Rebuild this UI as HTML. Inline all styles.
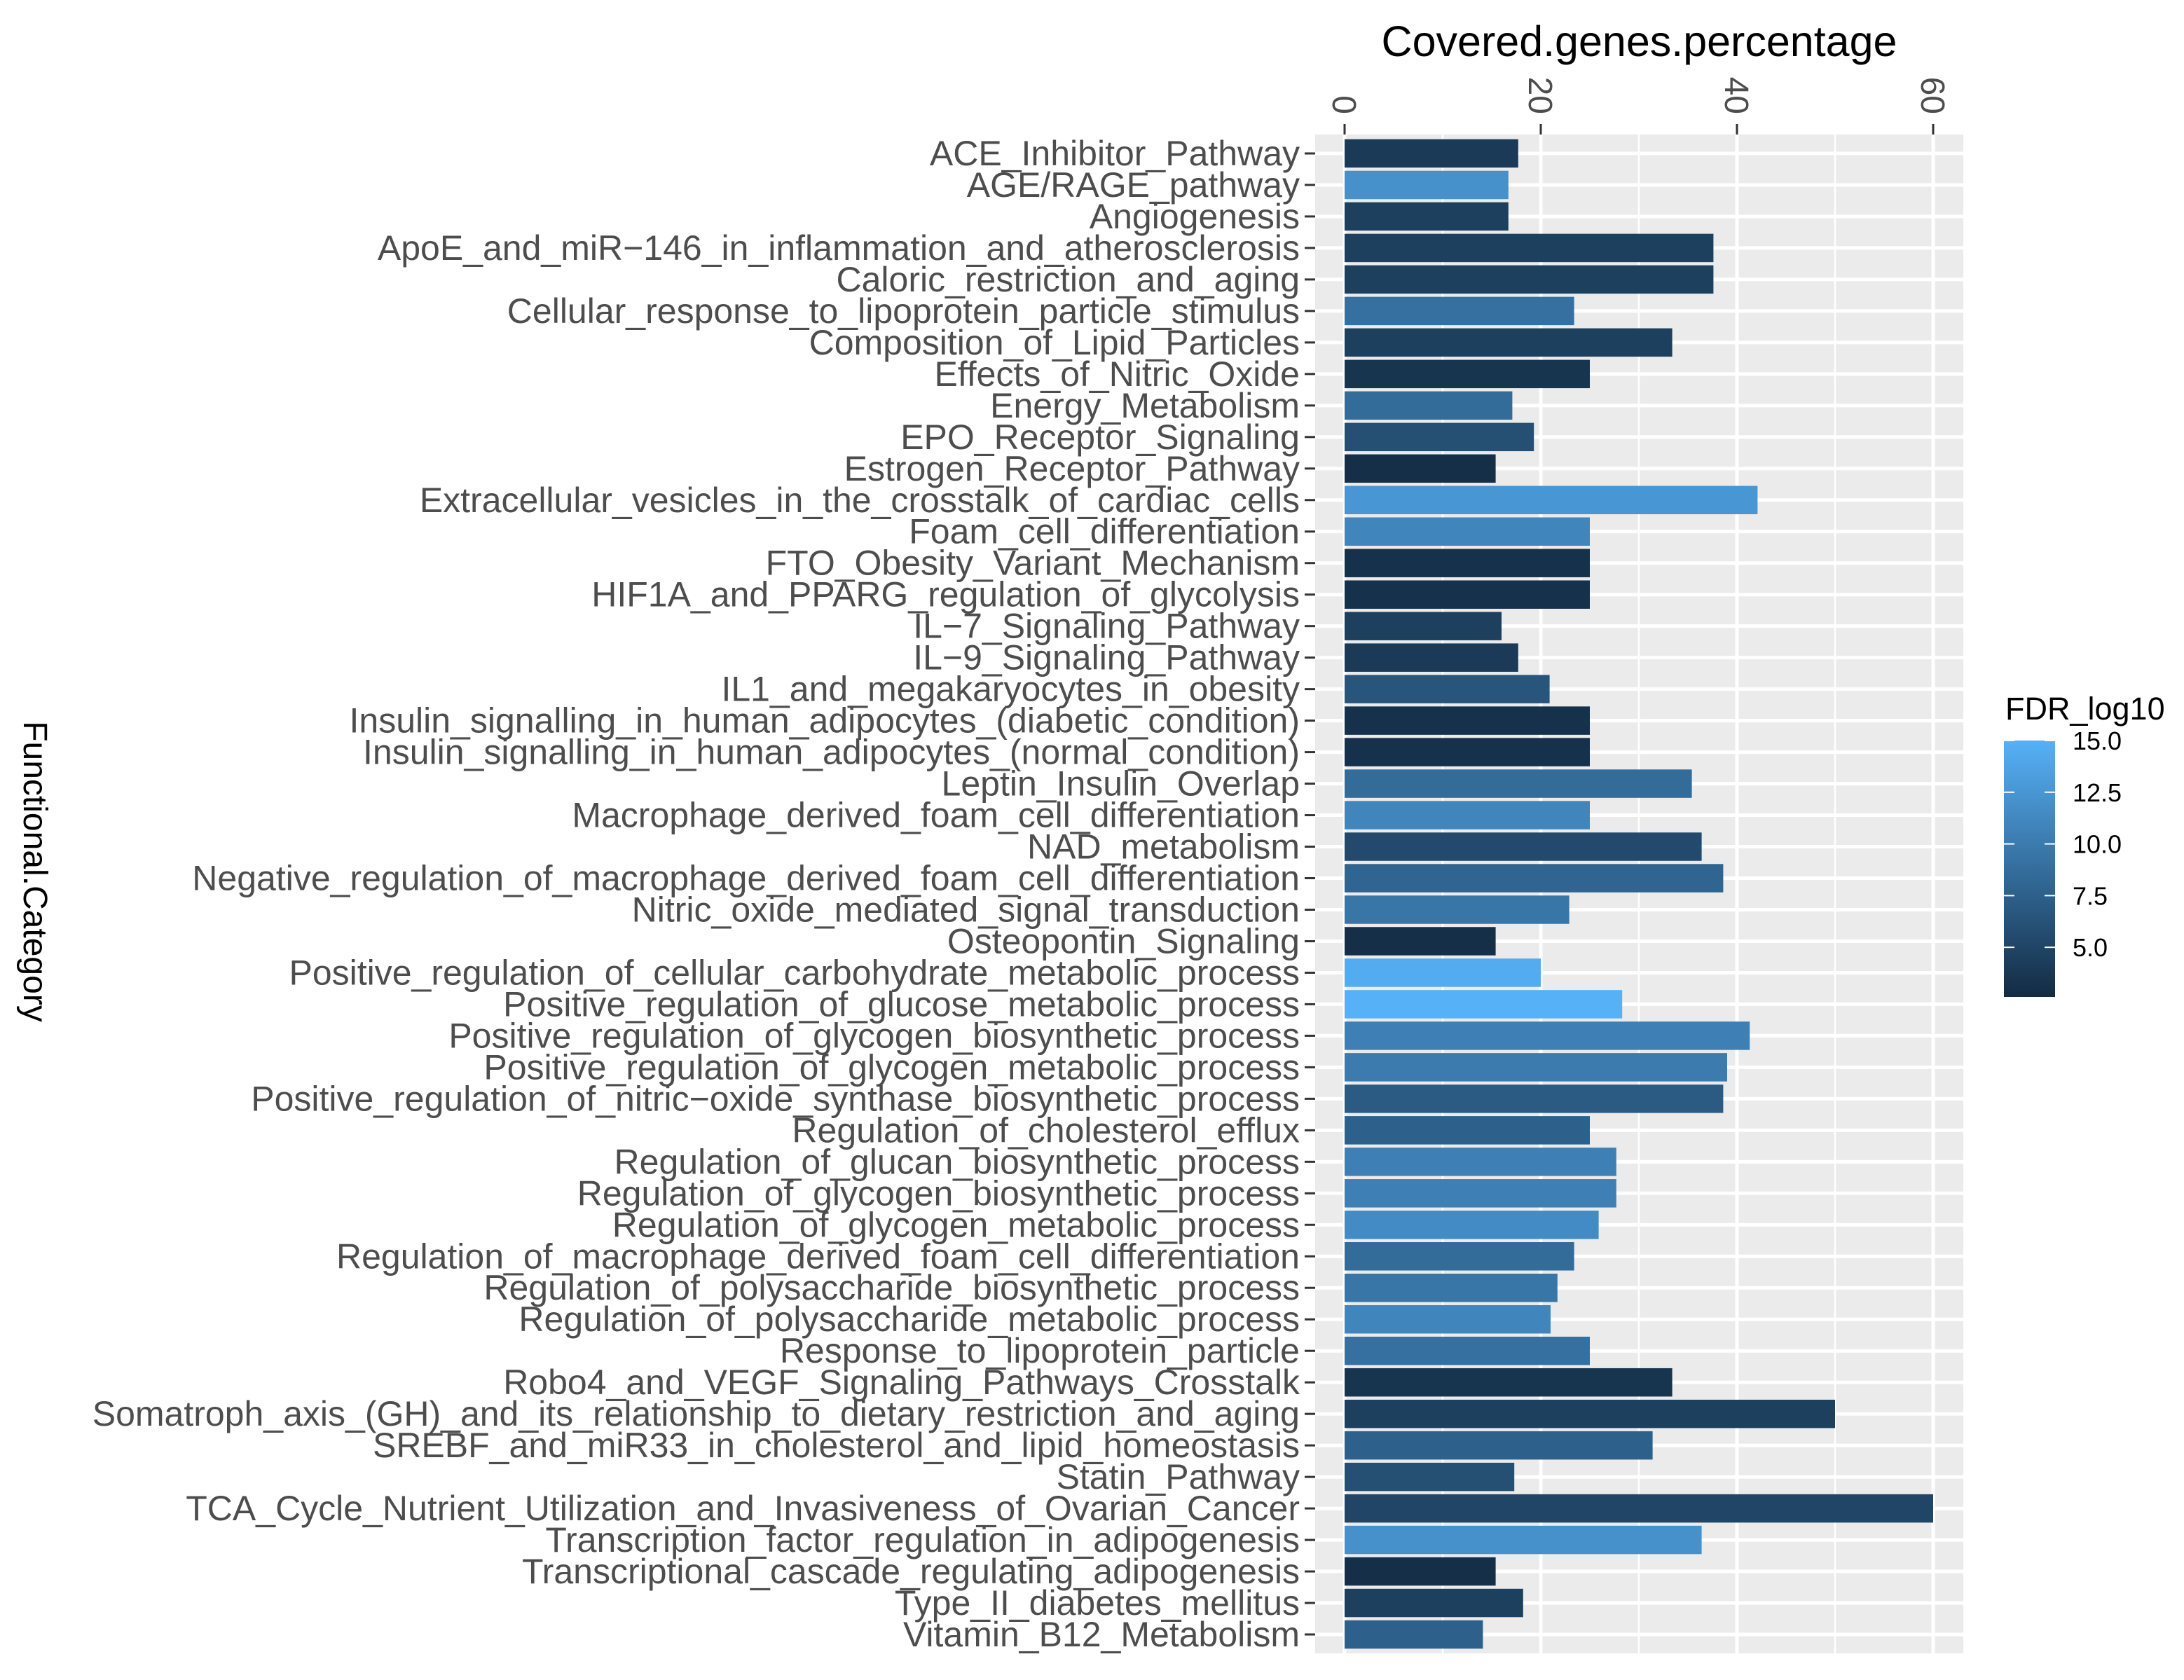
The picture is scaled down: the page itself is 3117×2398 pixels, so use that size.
<!DOCTYPE html>
<html><head><meta charset="utf-8"><style>html,body{margin:0;padding:0;background:#fff}svg{display:block}</style></head>
<body>
<svg id="chart" xmlns="http://www.w3.org/2000/svg" width="3117" height="2398" viewBox="0 0 3117 2398" font-family="Liberation Sans, Arial, sans-serif"></svg>
<script>
const categories = ["ACE_Inhibitor_Pathway","AGE/RAGE_pathway","Angiogenesis","ApoE_and_miR\u2212146_in_inflammation_and_atherosclerosis","Caloric_restriction_and_aging","Cellular_response_to_lipoprotein_particle_stimulus","Composition_of_Lipid_Particles","Effects_of_Nitric_Oxide","Energy_Metabolism","EPO_Receptor_Signaling","Estrogen_Receptor_Pathway","Extracellular_vesicles_in_the_crosstalk_of_cardiac_cells","Foam_cell_differentiation","FTO_Obesity_Variant_Mechanism","HIF1A_and_PPARG_regulation_of_glycolysis","IL\u22127_Signaling_Pathway","IL\u22129_Signaling_Pathway","IL1_and_megakaryocytes_in_obesity","Insulin_signalling_in_human_adipocytes_(diabetic_condition)","Insulin_signalling_in_human_adipocytes_(normal_condition)","Leptin_Insulin_Overlap","Macrophage_derived_foam_cell_differentiation","NAD_metabolism","Negative_regulation_of_macrophage_derived_foam_cell_differentiation","Nitric_oxide_mediated_signal_transduction","Osteopontin_Signaling","Positive_regulation_of_cellular_carbohydrate_metabolic_process","Positive_regulation_of_glucose_metabolic_process","Positive_regulation_of_glycogen_biosynthetic_process","Positive_regulation_of_glycogen_metabolic_process","Positive_regulation_of_nitric\u2212oxide_synthase_biosynthetic_process","Regulation_of_cholesterol_efflux","Regulation_of_glucan_biosynthetic_process","Regulation_of_glycogen_biosynthetic_process","Regulation_of_glycogen_metabolic_process","Regulation_of_macrophage_derived_foam_cell_differentiation","Regulation_of_polysaccharide_biosynthetic_process","Regulation_of_polysaccharide_metabolic_process","Response_to_lipoprotein_particle","Robo4_and_VEGF_Signaling_Pathways_Crosstalk","Somatroph_axis_(GH)_and_its_relationship_to_dietary_restriction_and_aging","SREBF_and_miR33_in_cholesterol_and_lipid_homeostasis","Statin_Pathway","TCA_Cycle_Nutrient_Utilization_and_Invasiveness_of_Ovarian_Cancer","Transcription_factor_regulation_in_adipogenesis","Transcriptional_cascade_regulating_adipogenesis","Type_II_diabetes_mellitus","Vitamin_B12_Metabolism"];
const coverage = [17.7,16.7,16.7,37.6,37.6,23.4,33.4,25,17.1,19.3,15.4,42.1,25,25,25,16,17.7,20.9,25,25,35.4,25,36.4,38.6,22.9,15.4,20,28.3,41.3,39,38.6,25,27.7,27.7,25.9,23.4,21.7,21,25,33.4,50,31.4,17.3,60,36.4,15.4,18.2,14.1];
const fdrLog10 = [4,12,4.5,4.5,4.5,9,4.5,3.5,8.5,6,3,12.5,11,3.2,3.2,4.5,4,6.5,3.2,3.2,8.5,11,5.5,8,9.5,3,14.5,15,10.5,10,7,7.5,10.5,10.5,11.5,8.5,9.5,11,9,3.5,4.5,7.5,6,5,12,3,4.5,7.5];
const xTicks = [0,20,40,60];
const xMinor = [10,30,50];
const legendTicks = [5,7.5,10,12.5,15];
const legendLabels = ["5.0","7.5","10.0","12.5","15.0"];
const fdrMin = 2.6, fdrMax = 15;

const svg = document.getElementById('chart');
const NS = 'http://www.w3.org/2000/svg';
function mk(tag, attrs, parent){const e=document.createElementNS(NS,tag);for(const k in attrs)e.setAttribute(k,attrs[k]);(parent||svg).appendChild(e);return e;}

const pL=1877, pR=2802, pT=192, pB=2360;
const x0=1919, pxPerUnit=14;
const xs = v => x0 + v*pxPerUnit;
const step = (pB-pT)/(categories.length+0.2);
const yc = i => pT + step*(0.6+i);
function colorOf(v){
  const t=Math.max(0,Math.min(1,(v-fdrMin)/(fdrMax-fdrMin)));
  const a=[0x13,0x2B,0x43], b=[0x56,0xB1,0xF7];
  return 'rgb('+a.map((c,k)=>Math.round(c+(b[k]-c)*t)).join(',')+')';
}

const panel = mk('rect',{x:pL,y:pT,width:pR-pL,height:pB-pT,fill:'#EBEBEB'});



xMinor.forEach(v=>{
  const l=mk('line',{x1:xs(v),x2:xs(v),y1:pT,y2:pB,stroke:'#fff','stroke-width':2.5});
  
  
});
xTicks.forEach(v=>{
  const l=mk('line',{x1:xs(v),x2:xs(v),y1:pT,y2:pB,stroke:'#fff','stroke-width':5});
  
  
  const t=mk('line',{x1:xs(v),x2:xs(v),y1:pT-15,y2:pT,stroke:'#333','stroke-width':3});
  
  
  const tx=mk('text',{x:0,y:0,transform:'translate('+(xs(v)-17)+','+(pT-29)+') rotate(90)','text-anchor':'end','font-size':48,fill:'#4D4D4D'});
  tx.textContent=String(v);
  
  
});
categories.forEach((c,i)=>{
  const y=yc(i);
  const g=mk('line',{x1:pL,x2:pR,y1:y,y2:y,stroke:'#fff','stroke-width':5});
  
  
});
categories.forEach((c,i)=>{
  const y=yc(i), h=step*0.9;
  const b=mk('rect',{x:xs(0),y:y-h/2,width:xs(coverage[i])-xs(0),height:h,fill:colorOf(fdrLog10[i])});
  
  
  const t=mk('line',{x1:pL-15,x2:pL,y1:y,y2:y,stroke:'#333','stroke-width':3});
  
  
  const tx=mk('text',{x:pL-22,y:y+17,'text-anchor':'end','font-size':50,fill:'#4D4D4D'});
  tx.textContent=c;
  
  
});

const title=mk('text',{x:(pL+pR)/2,y:80,'text-anchor':'middle','font-size':61,fill:'#000'});
title.textContent='Covered.genes.percentage';



const yt=mk('text',{x:0,y:0,transform:'translate(34,1244) rotate(90)','text-anchor':'middle','font-size':48,fill:'#000'});
yt.textContent='Functional.Category';



// legend
const lgT=1057, lgB=1423, lgX=2860, lgW=73;
const lgY = v => lgT + (fdrMax-v)/(fdrMax-fdrMin)*(lgB-lgT);
const defs=mk('defs',{});
const grad=mk('linearGradient',{id:'fdrgrad',x1:0,y1:1,x2:0,y2:0},defs);
mk('stop',{offset:'0','stop-color':colorOf(fdrMin)},grad);
mk('stop',{offset:'1','stop-color':colorOf(fdrMax)},grad);
const lt=mk('text',{x:2862,y:1027,'font-size':45,fill:'#000'});
lt.textContent='FDR_log10';


const bar=mk('rect',{x:lgX,y:lgT,width:lgW,height:lgB-lgT,fill:'url(#fdrgrad)'});


legendTicks.forEach((v,i)=>{
  const y=lgY(v);
  const a=mk('line',{x1:lgX,x2:lgX+15,y1:y,y2:y,stroke:'#fff','stroke-width':2});
  
  
  const b=mk('line',{x1:lgX+lgW-15,x2:lgX+lgW,y1:y,y2:y,stroke:'#fff','stroke-width':2});
  
  
  const t=mk('text',{x:2958,y:y+13,'font-size':36,fill:'#000'});
  t.textContent=legendLabels[i];
  
  
});
</script>
</body></html>
